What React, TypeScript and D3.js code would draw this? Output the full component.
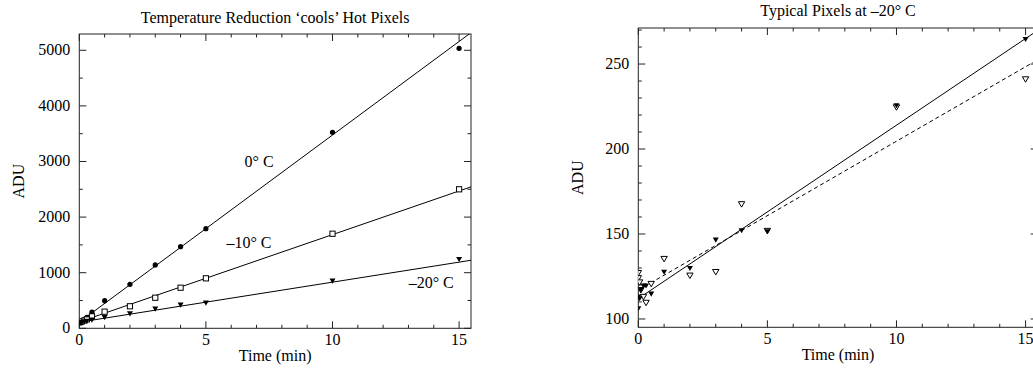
import React from "react";
import * as d3 from "d3";

// ---------- data: left panel ----------
const hotTimes = [0, 0.05, 0.1, 0.2, 0.3, 0.5, 1, 2, 3, 4, 5, 10, 15];
const adu0C = [100, 115, 130, 160, 195, 290, 496, 791, 1139, 1468, 1791, 3525, 5036];
const aduMinus10C = [105, 115, 125, 140, 160, 215, 299, 396, 550, 730, 899, 1701, 2500];
const aduMinus20C = [100, 105, 112, 120, 130, 150, 195, 263, 347, 419, 455, 851, 1241];
// linear fits: [intercept, slope]
const fit0C = [110, 336.6];
const fitMinus10C = [115, 157];
const fitMinus20C = [110, 72];
const hotLabels = ["0° C", "–10° C", "–20° C"];
const hotLabelPos = [
  [7.1, 2900],
  [6.7, 1450],
  [13.9, 725],
];

// ---------- data: right panel ----------
const timesA = [0, 0, 0.05, 0.1, 0.2, 0.3, 0.5, 1, 2, 3, 4, 5, 10, 15];
const pixelA = [106, 113, 112, 117, 119.5, 119.5, 114.7, 127.6, 129.8, 146.5, 152, 151.4, 225.5, 264.5];
const timesB = [0, 0, 0.05, 0.1, 0.2, 0.3, 0.5, 1, 2, 3, 4, 5, 10, 15];
const pixelB = [127, 124, 121.5, 117, 113, 109.5, 120.6, 135.3, 125.5, 127.6, 167.5, 151.8, 224.5, 241];
const fitA = [112, 10.2];
const fitB = [117, 8.76];

// ---------- axis ticks ----------
const xMajorTicks = [0, 5, 10, 15];
const xMinorStep = 1;
const hotYMajor = [0, 1000, 2000, 3000, 4000, 5000];
const hotYMinorStep = 500;
const typYMajor = [100, 150, 200, 250];
const typYMinorStep = 10;

const FONT = "'Liberation Serif', 'Times New Roman', Times, serif";
const AXIS = "#222";

type PanelProps = {
  id: string;
  x0: number; x1: number; y0: number; y1: number;
  xDomain: [number, number];
  yDomain: [number, number];
  yMajor: number[];
  yMinorStep: number;
  title: string;
  titleY: number;
  children: (x: d3.ScaleLinear<number, number>, y: d3.ScaleLinear<number, number>) => React.ReactNode;
};

function Panel(p: PanelProps) {
  const x = d3.scaleLinear().domain(p.xDomain).range([p.x0, p.x1]);
  const y = d3.scaleLinear().domain(p.yDomain).range([p.y1, p.y0]);
  const xMinor = d3.range(Math.ceil(p.xDomain[0]), p.xDomain[1] + 1e-9, xMinorStep).filter((v) => !xMajorTicks.includes(v));
  const yMinor = d3
    .range(Math.ceil(p.yDomain[0] / p.yMinorStep) * p.yMinorStep, p.yDomain[1] + 1e-9, p.yMinorStep)
    .filter((v) => !p.yMajor.includes(v));
  const MAJ = 7, MIN = 3.5;
  const cx = (p.x0 + p.x1) / 2;
  const cy = (p.y0 + p.y1) / 2;
  return (
    <g>
      <defs>
        <clipPath id={p.id}>
          <rect x={p.x0} y={p.y0} width={p.x1 - p.x0} height={p.y1 - p.y0} />
        </clipPath>
      </defs>
      <text x={cx} y={p.titleY} textAnchor="middle" fontSize={16} fontFamily={FONT}>{p.title}</text>
      {/* ticks */}
      <g stroke={AXIS} strokeWidth={1}>
        {xMajorTicks.map((v) => (
          <g key={"xM" + v}>
            <line x1={x(v)} x2={x(v)} y1={p.y1} y2={p.y1 - MAJ} />
            <line x1={x(v)} x2={x(v)} y1={p.y0} y2={p.y0 + MAJ} />
          </g>
        ))}
        {xMinor.map((v) => (
          <g key={"xm" + v}>
            <line x1={x(v)} x2={x(v)} y1={p.y1} y2={p.y1 - MIN} />
            <line x1={x(v)} x2={x(v)} y1={p.y0} y2={p.y0 + MIN} />
          </g>
        ))}
        {p.yMajor.map((v) => (
          <g key={"yM" + v}>
            <line x1={p.x0} x2={p.x0 + MAJ} y1={y(v)} y2={y(v)} />
            <line x1={p.x1} x2={p.x1 - MAJ} y1={y(v)} y2={y(v)} />
          </g>
        ))}
        {yMinor.map((v) => (
          <g key={"ym" + v}>
            <line x1={p.x0} x2={p.x0 + MIN} y1={y(v)} y2={y(v)} />
            <line x1={p.x1} x2={p.x1 - MIN} y1={y(v)} y2={y(v)} />
          </g>
        ))}
        <rect x={p.x0} y={p.y0} width={p.x1 - p.x0} height={p.y1 - p.y0} fill="none" />
      </g>
      {/* tick labels */}
      {xMajorTicks.map((v) => (
        <text key={"xl" + v} x={x(v)} y={p.y1 + 17} textAnchor="middle" fontSize={16} fontFamily={FONT}>{v}</text>
      ))}
      {p.yMajor.map((v) => (
        <text key={"yl" + v} x={p.x0 - 9} y={y(v) + 5} textAnchor="end" fontSize={16} fontFamily={FONT}>{v}</text>
      ))}
      <text x={cx} y={p.y1 + 33} textAnchor="middle" fontSize={16} fontFamily={FONT}>Time (min)</text>
      <text
        transform={`translate(${p.x0 - 55},${cy}) rotate(-90)`}
        textAnchor="middle"
        fontSize={16}
        fontFamily={FONT}
      >
        ADU
      </text>
      <g clipPath={`url(#${p.id})`}>{p.children(x, y)}</g>
    </g>
  );
}

function fitLine(fit: number[], x: d3.ScaleLinear<number, number>, y: d3.ScaleLinear<number, number>) {
  const [t0, t1] = x.domain();
  const gen = d3.line<number>().x((t) => x(t)).y((t) => y(fit[0] + fit[1] * t));
  return gen([t0, t1]) || "";
}

function triDown(cx: number, cy: number, s: number) {
  return `M${cx - s},${cy - s * 0.8} L${cx + s},${cy - s * 0.8} L${cx},${cy + s * 0.9} Z`;
}

export default function App() {
  return (
    <svg
      width={1033}
      height={368}
      style={{ position: "absolute", left: 0, top: 0, background: "#fff" }}
    >
      <rect x={0} y={0} width={1033} height={368} fill="#fff" />
      <Panel
        id="clipHot"
        x0={79.3} x1={471} y0={34} y1={328.3}
        xDomain={[0, 15.47]}
        yDomain={[0, 5293]}
        yMajor={hotYMajor}
        yMinorStep={hotYMinorStep}
        title="Temperature Reduction ‘cools’ Hot Pixels"
        titleY={23}
      >
        {(x, y) => (
          <g>
            {[fit0C, fitMinus10C, fitMinus20C].map((f, i) => (
              <path key={"f" + i} d={fitLine(f, x, y)} stroke="#000" strokeWidth={1} fill="none" />
            ))}
            {hotTimes.map((t, i) => (
              <circle key={"c" + i} cx={x(t)} cy={y(adu0C[i])} r={2.6} fill="#000" />
            ))}
            {hotTimes.map((t, i) => (
              <rect key={"s" + i} x={x(t) - 2.6} y={y(aduMinus10C[i]) - 2.6} width={5.2} height={5.2} fill="#fff" stroke="#000" strokeWidth={1} />
            ))}
            {hotTimes.map((t, i) => (
              <path key={"t" + i} d={triDown(x(t), y(aduMinus20C[i]), 3)} fill="#000" />
            ))}
          </g>
        )}
      </Panel>
      {hotLabels.map((lab, i) => {
        const x = d3.scaleLinear().domain([0, 15.47]).range([79.3, 471]);
        const y = d3.scaleLinear().domain([0, 5293]).range([328.3, 34]);
        return (
          <text key={lab} x={x(hotLabelPos[i][0])} y={y(hotLabelPos[i][1])} textAnchor="middle" fontSize={16} fontFamily={FONT}>
            {lab}
          </text>
        );
      })}
      <Panel
        id="clipTyp"
        x0={638.3} x1={1037.7} y0={28} y1={327.3}
        xDomain={[0, 15.47]}
        yDomain={[95.1, 271.2]}
        yMajor={typYMajor}
        yMinorStep={typYMinorStep}
        title="Typical Pixels at –20° C"
        titleY={16}
      >
        {(x, y) => (
          <g>
            <path d={fitLine(fitA, x, y)} stroke="#000" strokeWidth={1} fill="none" />
            <path d={fitLine(fitB, x, y)} stroke="#000" strokeWidth={1} strokeDasharray="4,3" fill="none" />
            {timesB.map((t, i) => (
              <path key={"b" + i} d={triDown(x(t), y(pixelB[i]), 3.2)} fill="#fff" stroke="#000" strokeWidth={1} />
            ))}
            {timesA.map((t, i) => (
              <path key={"a" + i} d={triDown(x(t), y(pixelA[i]), 3)} fill="#000" />
            ))}
          </g>
        )}
      </Panel>
    </svg>
  );
}
